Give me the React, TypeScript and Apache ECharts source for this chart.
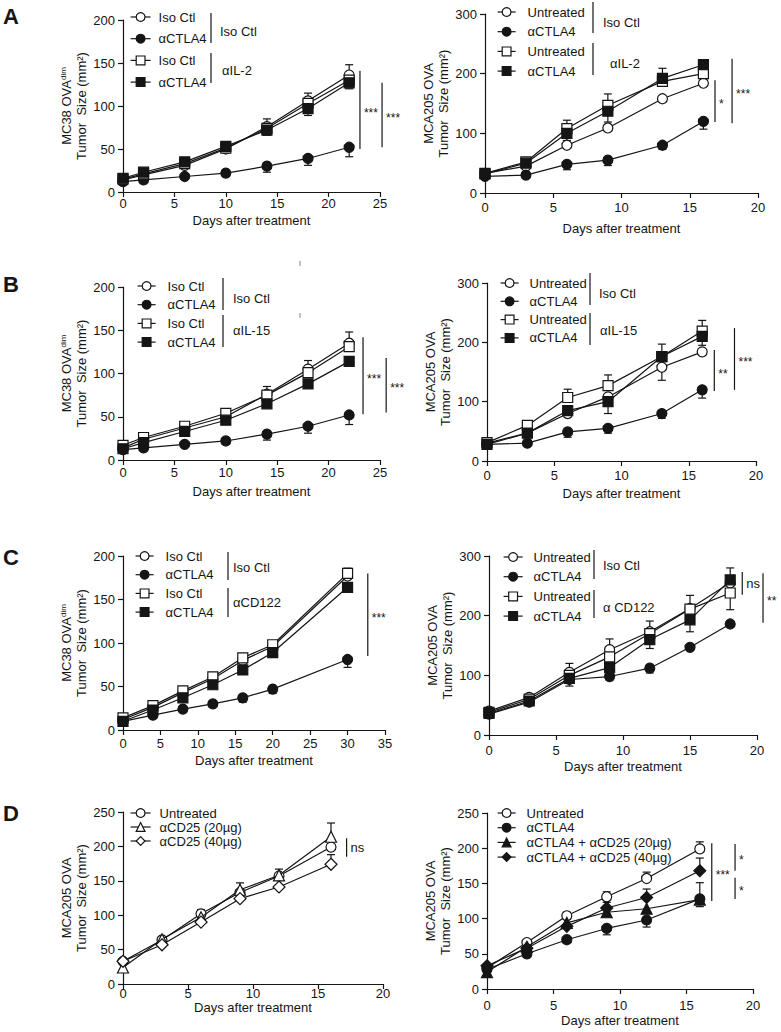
import React, { useEffect, useRef } from "react";
import * as echarts from "echarts";

const INK = "#151515";
const FONT = "'Liberation Sans',Arial,Helvetica,sans-serif";
const LW = 1.2;
const TICK_FS = 13;
const LEGEND_FS = 13;
const TITLE_FS = 13;

// ---------------- data ----------------
const daysA_L = [0, 2, 6, 10, 14, 18, 22];
const daysA_R = [0, 3, 6, 9, 13, 16];
const daysB_L = [0, 2, 6, 10, 14, 18, 22];
const daysB_R = [0, 3, 6, 9, 13, 16];
const daysC_L = [0, 4, 8, 12, 16, 20, 30];
const daysC_R = [0, 3, 6, 9, 12, 15, 18];
const daysD_L = [0, 3, 6, 9, 12, 16];
const daysD_R = [0, 3, 6, 9, 12, 16];

const xTicks25 = [0, 5, 10, 15, 20, 25];
const xTicks20 = [0, 5, 10, 15, 20];
const xTicks35 = [0, 5, 10, 15, 20, 25, 30, 35];
const yTicks200 = [0, 50, 100, 150, 200];
const yTicks300 = [0, 100, 200, 300];
const yTicks250 = [0, 50, 100, 150, 200, 250];

// A left: MC38 OVAdim, αIL-2
const aL_isoIso = [14, 20, 31, 50, 76, 106, 136];
const aL_isoIsoErr = [0, 0, 2, 3, 9, 9, 12];
const aL_ctlaIso = [12, 14, 18, 22, 30, 39, 52];
const aL_ctlaIsoErr = [0, 0, 0, -4, -7, -8, -11];
const aL_isoIL2 = [15, 21, 33, 51, 74, 103, 130];
const aL_isoIL2Err = [0, 0, 0, 0, 0, 0, 0];
const aL_ctlaIL2 = [16, 23, 35, 53, 72, 97, 127];
const aL_ctlaIL2Err = [0, 0, 0, 0, -6, -8, -7];

// A right: MCA205 OVA, αIL-2
const aR_untIso = [33, 45, 80, 109, 158, 184];
const aR_untIsoErr = [0, 0, 0, 0, 0, 0];
const aR_ctlaIso = [28, 30, 48, 55, 80, 120];
const aR_ctlaIsoErr = [0, 0, -9, -9, -7, -13];
const aR_untIL2 = [33, 52, 108, 147, 187, 200];
const aR_untIL2Err = [0, 0, 14, 19, 0, 0];
const aR_ctlaIL2 = [32, 50, 100, 137, 192, 215];
const aR_ctlaIL2Err = [0, 0, -12, -18, 17, 0];

// B left: MC38 OVAdim, αIL-15
const bL_isoIso = [14, 24, 37, 50, 76, 105, 135];
const bL_isoIsoErr = [0, 0, 0, 0, 9, 10, 13];
const bL_ctlaIso = [12, 14, 18, 22, 30, 39, 52];
const bL_ctlaIsoErr = [0, 0, 0, -4, -7, -8, -11];
const bL_isoIL15 = [17, 26, 39, 54, 75, 101, 131];
const bL_isoIL15Err = [0, 0, 0, 4, 0, 0, 0];
const bL_ctlaIL15 = [13, 20, 33, 46, 65, 88, 114];
const bL_ctlaIL15Err = [0, 0, 0, 0, 0, 0, 0];

// B right: MCA205 OVA, αIL-15
const bR_untIso = [30, 47, 80, 108, 158, 184];
const bR_untIsoErr = [0, 0, -6, 0, -22, 0];
const bR_ctlaIso = [28, 30, 49, 55, 80, 120];
const bR_ctlaIsoErr = [0, 0, -9, -8, -8, -14];
const bR_untIL15 = [31, 60, 107, 127, 176, 219];
const bR_untIL15Err = [0, 0, 14, 18, 21, 18];
const bR_ctlaIL15 = [28, 47, 85, 100, 176, 210];
const bR_ctlaIL15Err = [0, 0, 0, -20, 0, -15];

// C left: MC38 OVAdim, αCD122
const cL_isoIso = [12, 26, 43, 59, 80, 96, 177];
const cL_isoIsoErr = [0, 0, 0, 0, 0, 0, 0];
const cL_ctlaIso = [10, 17, 24, 30, 37, 47, 81];
const cL_ctlaIsoErr = [0, 0, 0, -3, -5, -5, -9];
const cL_isoCD122 = [14, 28, 45, 61, 83, 98, 180];
const cL_isoCD122Err = [0, 0, 0, 0, 0, 0, 6];
const cL_ctlaCD122 = [10, 23, 37, 52, 69, 89, 164];
const cL_ctlaCD122Err = [0, 0, 0, 0, 0, 0, 0];

// C right: MCA205 OVA, αCD122
const cR_untIso = [40, 63, 105, 143, 173, 212, 255];
const cR_untIsoErr = [0, 0, 15, 18, 18, 22, 0];
const cR_ctlaIso = [35, 55, 93, 98, 112, 147, 186];
const cR_ctlaIsoErr = [0, 0, 0, -6, -8, 0, 0];
const cR_untCD122 = [38, 60, 100, 131, 170, 211, 238];
const cR_untCD122Err = [0, 0, 0, 0, 0, 0, -28];
const cR_ctlaCD122 = [36, 57, 95, 113, 160, 193, 260];
const cR_ctlaCD122Err = [0, 0, -13, 0, -15, -20, 20];

// D left: MCA205 OVA, αCD25
const dL_unt = [33, 64, 102, 133, 157, 199];
const dL_untErr = [0, 0, 6, 0, 0, 0];
const dL_cd25_20 = [24, 65, 97, 137, 158, 214];
const dL_cd25_20Err = [0, 0, 0, 10, 9, 20];
const dL_cd25_40 = [33, 57, 90, 124, 141, 174];
const dL_cd25_40Err = [0, 0, 0, 0, 0, 14];

// D right: MCA205 OVA, αCTLA4 + αCD25
const dR_unt = [30, 66, 104, 131, 157, 199];
const dR_untErr = [0, 0, 5, 7, 9, 10];
const dR_ctla = [28, 50, 70, 86, 98, 128];
const dR_ctlaErr = [0, 0, 0, -9, -10, -11];
const dR_ctlaCd25_20 = [24, 60, 94, 109, 114, 127];
const dR_ctlaCd25_20Err = [0, 0, 0, 0, 0, 24];
const dR_ctlaCd25_40 = [33, 58, 89, 115, 130, 168];
const dR_ctlaCd25_40Err = [0, 0, 0, 8, 12, 18];

const panelLetters = ["A", "B", "C", "D"];
const xTitle = "Days after treatment";
const yTitleMC38 = "MC38 OVA{sup|dim}\nTumor  Size (mm²)";
const yTitleMCA205 = "MCA205 OVA\nTumor  Size (mm²)";

type S = { id: string; label: string; symbol: string; filled: boolean; values: number[]; err: number[] };
type Sig = { x: number; y1: number; y2: number; text: string };
type Panel = { days: number[]; xTicks: number[]; yTicks: number[]; yTitle: string; series: S[]; groups: string[]; sig: Sig[] };

const mk = (id: string, label: string, symbol: string, filled: boolean, values: number[], err: number[]): S => ({ id, label, symbol, filled, values, err });

const PANELS: Panel[] = [
  {
    days: daysA_L, xTicks: xTicks25, yTicks: yTicks200, yTitle: yTitleMC38,
    series: [
      mk("aL0", "Iso Ctl", "circle", false, aL_isoIso, aL_isoIsoErr),
      mk("aL1", "αCTLA4", "circle", true, aL_ctlaIso, aL_ctlaIsoErr),
      mk("aL2", "Iso Ctl", "rect", false, aL_isoIL2, aL_isoIL2Err),
      mk("aL3", "αCTLA4", "rect", true, aL_ctlaIL2, aL_ctlaIL2Err),
    ],
    groups: ["Iso Ctl", "αIL-2"],
    sig: [{ x: 23.05, y1: 50, y2: 141, text: "***" }, { x: 25.2, y1: 52, y2: 127, text: "***" }],
  },
  {
    days: daysA_R, xTicks: xTicks20, yTicks: yTicks300, yTitle: yTitleMCA205,
    series: [
      mk("aR0", "Untreated", "circle", false, aR_untIso, aR_untIsoErr),
      mk("aR1", "αCTLA4", "circle", true, aR_ctlaIso, aR_ctlaIsoErr),
      mk("aR2", "Untreated", "rect", false, aR_untIL2, aR_untIL2Err),
      mk("aR3", "αCTLA4", "rect", true, aR_ctlaIL2, aR_ctlaIL2Err),
    ],
    groups: ["Iso Ctl", "αIL-2"],
    sig: [{ x: 16.85, y1: 119, y2: 189, text: "*" }, { x: 18.1, y1: 117, y2: 225, text: "***" }],
  },
  {
    days: daysB_L, xTicks: xTicks25, yTicks: yTicks200, yTitle: yTitleMC38,
    series: [
      mk("bL0", "Iso Ctl", "circle", false, bL_isoIso, bL_isoIsoErr),
      mk("bL1", "αCTLA4", "circle", true, bL_ctlaIso, bL_ctlaIsoErr),
      mk("bL2", "Iso Ctl", "rect", false, bL_isoIL15, bL_isoIL15Err),
      mk("bL3", "αCTLA4", "rect", true, bL_ctlaIL15, bL_ctlaIL15Err),
    ],
    groups: ["Iso Ctl", "αIL-15"],
    sig: [{ x: 23.35, y1: 53, y2: 142, text: "***" }, { x: 25.6, y1: 55, y2: 118, text: "***" }],
  },
  {
    days: daysB_R, xTicks: xTicks20, yTicks: yTicks300, yTitle: yTitleMCA205,
    series: [
      mk("bR0", "Untreated", "circle", false, bR_untIso, bR_untIsoErr),
      mk("bR1", "αCTLA4", "circle", true, bR_ctlaIso, bR_ctlaIsoErr),
      mk("bR2", "Untreated", "rect", false, bR_untIL15, bR_untIL15Err),
      mk("bR3", "αCTLA4", "rect", true, bR_ctlaIL15, bR_ctlaIL15Err),
    ],
    groups: ["Iso Ctl", "αIL-15"],
    sig: [{ x: 16.9, y1: 118, y2: 187, text: "**" }, { x: 18.4, y1: 120, y2: 224, text: "***" }],
  },
  {
    days: daysC_L, xTicks: xTicks35, yTicks: yTicks200, yTitle: yTitleMC38,
    series: [
      mk("cL0", "Iso Ctl", "circle", false, cL_isoIso, cL_isoIsoErr),
      mk("cL1", "αCTLA4", "circle", true, cL_ctlaIso, cL_ctlaIsoErr),
      mk("cL2", "Iso Ctl", "rect", false, cL_isoCD122, cL_isoCD122Err),
      mk("cL3", "αCTLA4", "rect", true, cL_ctlaCD122, cL_ctlaCD122Err),
    ],
    groups: ["Iso Ctl", "αCD122"],
    sig: [{ x: 32.7, y1: 85, y2: 180, text: "***" }],
  },
  {
    days: daysC_R, xTicks: xTicks20, yTicks: yTicks300, yTitle: yTitleMCA205,
    series: [
      mk("cR0", "Untreated", "circle", false, cR_untIso, cR_untIsoErr),
      mk("cR1", "αCTLA4", "circle", true, cR_ctlaIso, cR_ctlaIsoErr),
      mk("cR2", "Untreated", "rect", false, cR_untCD122, cR_untCD122Err),
      mk("cR3", "αCTLA4", "rect", true, cR_ctlaCD122, cR_ctlaCD122Err),
    ],
    groups: ["Iso Ctl", "α CD122"],
    sig: [{ x: 18.9, y1: 235, y2: 273, text: "ns" }, { x: 20.45, y1: 188, y2: 271, text: "**" }],
  },
  {
    days: daysD_L, xTicks: xTicks20, yTicks: yTicks250, yTitle: yTitleMCA205,
    series: [
      mk("dL0", "Untreated", "circle", false, dL_unt, dL_untErr),
      mk("dL1", "αCD25 (20µg)", "triangle", false, dL_cd25_20, dL_cd25_20Err),
      mk("dL2", "αCD25 (40µg)", "diamond", false, dL_cd25_40, dL_cd25_40Err),
    ],
    groups: [],
    sig: [{ x: 17.2, y1: 185, y2: 212, text: "ns" }],
  },
  {
    days: daysD_R, xTicks: xTicks20, yTicks: yTicks250, yTitle: yTitleMCA205,
    series: [
      mk("dR0", "Untreated", "circle", false, dR_unt, dR_untErr),
      mk("dR1", "αCTLA4", "circle", true, dR_ctla, dR_ctlaErr),
      mk("dR2", "αCTLA4 + αCD25 (20µg)", "triangle", true, dR_ctlaCd25_20, dR_ctlaCd25_20Err),
      mk("dR3", "αCTLA4 + αCD25 (40µg)", "diamond", true, dR_ctlaCd25_40, dR_ctlaCd25_40Err),
    ],
    groups: [],
    sig: [
      { x: 16.9, y1: 125, y2: 207, text: "***" },
      { x: 18.65, y1: 168, y2: 206, text: "*" },
      { x: 18.65, y1: 128, y2: 158, text: "*" },
    ],
  },
];

// ---------------- layout (pixels) ----------------
const GRID_BOX = [
  [123, 20, 257, 172], [485, 14, 273, 179],
  [123, 287, 257, 173], [487, 283, 269, 178],
  [123, 556, 262, 174], [489, 556, 268, 179],
  [123, 812, 260, 172], [487, 813, 266, 176],
];
const X_LABEL_OFF = [11, 14, 12, 14, 13, 15, 9, 16];
const X_NAME_OFF = [28, 35, 31, 32, 30, 31, 23, 31];
const Y_NAME_GAP = [23, 28, 24, 30, 24, 31, 29, 30];
const LEGEND_BOX = [
  { left: 130, w: 20, pad: 3, first: 17, step: 21.7 },
  { left: 497, w: 18, pad: 7, first: 12, step: 19.7 },
  { left: 137, w: 18, pad: 7, first: 286, step: 18.7 },
  { left: 500, w: 18, pad: 6, first: 283, step: 18.3 },
  { left: 135, w: 18, pad: 7, first: 556, step: 18.7 },
  { left: 503, w: 19, pad: 6, first: 557, step: 19.7 },
  { left: 130, w: 20, pad: 4, first: 813, step: 14 },
  { left: 497, w: 18, pad: 6, first: 813, step: 14.7 },
];
const SEPARATORS = [
  { x: 211, spans: [[13, 43], [53, 83]], labels: [[220, 31], [222, 70]] },
  { x: 593, spans: [[2, 33], [43, 75]], labels: [[603, 22], [610, 63]] },
  { x: 223, spans: [[278, 310], [315, 347]], labels: [[233, 298], [233, 330]] },
  { x: 590, spans: [[273, 305], [313, 345]], labels: [[599, 293], [600, 330]] },
  { x: 228, spans: [[552, 580], [588, 617]], labels: [[233, 567], [233, 602]] },
  { x: 594, spans: [[550, 579], [590, 618]], labels: [[603, 565], [603, 607]] },
  null,
  null,
];
const LETTER_POS = [[3, 16], [3, 284], [3, 557], [3, 813]];

function errRender(params: any, api: any) {
  const p0 = api.coord([api.value(0), api.value(1)]);
  const p1 = api.coord([api.value(0), api.value(2)]);
  const style = { stroke: INK, lineWidth: LW };
  return {
    type: "group",
    children: [
      { type: "line", shape: { x1: p0[0], y1: p0[1], x2: p1[0], y2: p1[1] }, style },
      { type: "line", shape: { x1: p1[0] - 4, y1: p1[1], x2: p1[0] + 4, y2: p1[1] }, style },
    ],
  };
}

function buildOption() {
  const grid: any[] = [];
  const xAxis: any[] = [];
  const yAxis: any[] = [];
  const series: any[] = [];
  const legend: any[] = [];
  const labelOf: Record<string, string> = {};

  PANELS.forEach((p, i) => {
    const g = GRID_BOX[i];
    grid.push({ left: g[0], top: g[1], width: g[2], height: g[3], containLabel: false });
    const axisCommon = {
      type: "value",
      gridIndex: i,
      axisLine: { show: true, onZero: false, lineStyle: { color: INK, width: LW } },
      axisTick: { show: true, inside: false, length: 5, lineStyle: { color: INK, width: LW } },
      splitLine: { show: false },
      nameLocation: "middle",
    };
    xAxis.push({
      ...axisCommon,
      min: p.xTicks[0],
      max: p.xTicks[p.xTicks.length - 1],
      interval: p.xTicks[1] - p.xTicks[0],
      axisLabel: { color: INK, fontSize: TICK_FS, fontFamily: FONT, margin: X_LABEL_OFF[i] - 6.5 },
      name: xTitle,
      nameGap: X_NAME_OFF[i] - 7.5,
      nameTextStyle: { color: INK, fontSize: TITLE_FS, fontFamily: FONT, lineHeight: 15 },
    });
    yAxis.push({
      ...axisCommon,
      min: p.yTicks[0],
      max: p.yTicks[p.yTicks.length - 1],
      interval: p.yTicks[1] - p.yTicks[0],
      axisLabel: { color: INK, fontSize: TICK_FS, fontFamily: FONT, margin: 8 },
      name: p.yTitle,
      nameRotate: 90,
      nameGap: Y_NAME_GAP[i],
      nameTextStyle: {
        color: INK, fontSize: TITLE_FS, fontFamily: FONT, lineHeight: 15,
        rich: { sup: { fontSize: 8, fontFamily: FONT, color: INK, verticalAlign: "top" } },
      },
    });
    p.series.forEach((s, k) => {
      labelOf[s.id] = s.label;
      series.push({
        type: "line",
        name: s.id,
        xAxisIndex: i,
        yAxisIndex: i,
        data: p.days.map((d, j) => [d, s.values[j]]),
        symbol: s.symbol,
        symbolSize: s.symbol === "triangle" ? 11 : s.symbol === "diamond" ? 12 : 10,
        itemStyle: { color: s.filled ? INK : "#ffffff", borderColor: INK, borderWidth: LW },
        lineStyle: { color: INK, width: LW },
        z: 3 + k * 0.1,
        silent: true,
        animation: false,
      });
      const errData = p.days
        .map((d, j) => (s.err[j] ? [d, s.values[j], s.values[j] + s.err[j]] : null))
        .filter((v) => v !== null);
      series.push({
        type: "custom",
        name: s.id + "_err",
        xAxisIndex: i,
        yAxisIndex: i,
        data: errData,
        renderItem: errRender,
        z: 2,
        silent: true,
        animation: false,
      });
    });
    const L = LEGEND_BOX[i];
    legend.push({
      orient: "vertical",
      left: L.left,
      top: L.first - L.step / 2,
      padding: 0,
      itemGap: 0,
      itemWidth: L.w,
      itemHeight: 11,
      selectedMode: false,
      data: p.series.map((s) => s.id),
      formatter: (name: string) => labelOf[name],
      textStyle: { color: INK, fontSize: LEGEND_FS, fontFamily: FONT, lineHeight: L.step, padding: [0, 0, 0, L.pad] },
      itemStyle: { borderColor: INK, borderWidth: LW },
      lineStyle: { color: INK, width: LW },
    });
  });

  return { animation: false, backgroundColor: "#ffffff", grid, xAxis, yAxis, series, legend };
}

function textEl(text: string, x: number, y: number, size: number, weight = "normal", family = FONT) {
  return {
    type: "text",
    x,
    y,
    silent: true,
    style: {
      text,
      fontSize: size,
      fontWeight: weight,
      fontFamily: family,
      fill: INK,
      textFill: INK,
      align: "left",
      textAlign: "left",
      verticalAlign: "middle",
      textVerticalAlign: "middle",
    },
  };
}

function lineEl(x1: number, y1: number, x2: number, y2: number, color = INK) {
  return { type: "line", silent: true, shape: { x1, y1, x2, y2 }, style: { stroke: color, lineWidth: LW } };
}

function buildGraphics(chart: any) {
  const els: any[] = [];
  panelLetters.forEach((t, i) => {
    els.push(textEl(t, LETTER_POS[i][0], LETTER_POS[i][1], 22, "bold"));
  });
  PANELS.forEach((p, i) => {
    const sep = SEPARATORS[i];
    if (sep) {
      sep.spans.forEach((sp) => els.push(lineEl(sep.x, sp[0], sep.x, sp[1])));
      p.groups.forEach((g, k) => els.push(textEl(g, sep.labels[k][0], sep.labels[k][1], LEGEND_FS)));
    }
    p.sig.forEach((s) => {
      const a = chart.convertToPixel({ gridIndex: i }, [s.x, s.y1]);
      const b = chart.convertToPixel({ gridIndex: i }, [s.x, s.y2]);
      els.push(lineEl(a[0], a[1], b[0], b[1]));
      const isStar = s.text.indexOf("*") >= 0;
      els.push(textEl(s.text, a[0] + 4, (a[1] + b[1]) / 2 + (isStar ? 3 : 0), isStar ? 12 : 13));
    });
  });
  // faint stray marks in panel B
  els.push(lineEl(300, 261, 300, 266, "#999"));
  els.push(lineEl(300, 313, 300, 318, "#999"));
  return els;
}

export default function App() {
  const ref = useRef<HTMLDivElement>(null);
  useEffect(() => {
    const el = ref.current;
    if (!el) return;
    const chart = echarts.init(el, null, { renderer: "svg" });
    chart.setOption(buildOption());
    chart.setOption({ graphic: { elements: buildGraphics(chart) } });
    return () => chart.dispose();
  }, []);
  return (
    <div
      ref={ref}
      style={{ position: "absolute", left: 0, top: 0, width: 781, height: 1032, background: "#fff" }}
    />
  );
}
